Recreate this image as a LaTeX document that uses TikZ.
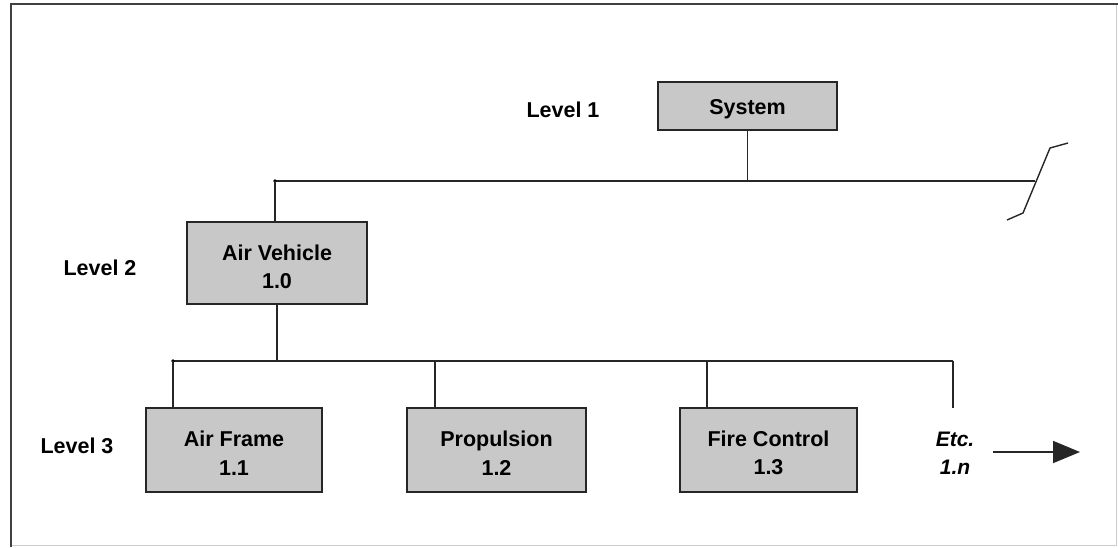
\documentclass[tikz,border=0pt]{standalone}
\usepackage{fontspec}
\setmainfont{Liberation Sans}
\usetikzlibrary{arrows.meta}
\definecolor{boxgray}{HTML}{C8C8C8}
\tikzset{
  wbox/.style={draw=black!85, line width=2pt, fill=boxgray, inner sep=0pt},
  txt/.style={font=\fontsize{21.5}{28.5}\selectfont\bfseries, inner sep=0pt, align=center},
  lvl/.style={font=\fontsize{21.5}{24}\selectfont\bfseries, inner sep=0pt},
  conn/.style={draw=black!85, line width=1.8pt},
}
\begin{document}
\begin{tikzpicture}[x=1pt,y=-1pt]
\useasboundingbox (0,0) rectangle (1118,547);
% frame
\draw[black!20, line width=1pt] (1116,4) -- (1116,545) -- (11,545);
\draw[black!75, line width=2pt] (11,547) -- (11,4) -- (1118,4);
% level labels
\node[lvl] (l1) at (563,110) {Level 1};
\node[lvl] (l2) at (100,268) {Level 2};
\node[lvl] (l3) at (77,446) {Level 3};
% boxes
\node[wbox, minimum width=179pt, minimum height=48pt] (sys) at (747.5,106) {};
\node[wbox, minimum width=180pt, minimum height=82pt] (av) at (277,263) {};
\node[wbox, minimum width=176pt, minimum height=84pt] (af) at (234,450) {};
\node[wbox, minimum width=179pt, minimum height=84pt] (pr) at (496.5,450) {};
\node[wbox, minimum width=177pt, minimum height=84pt] (fc) at (768.5,450) {};
% box texts
\node[txt] (tsys) at ([yshift=-3pt]sys.center) {System};
\node[txt] (tav) at ([yshift=-4pt]av.center) {Air Vehicle\\1.0};
\node[txt] (taf) at ([yshift=-3pt]af.center) {Air Frame\\1.1};
\node[txt] (tpr) at ([yshift=-3pt]pr.center) {Propulsion\\1.2};
\node[txt] (tfc) at ([yshift=-3pt]fc.center) {Fire Control\\1.3};
\node[txt, font=\fontsize{21}{28}\selectfont\bfseries\itshape] (etc) at (955,453) {Etc.\\1.n};
% bus coordinates
\coordinate (b1l) at (275,181);
\coordinate (b1r) at (1035,181);
\coordinate (b2l) at (173,361);
\coordinate (b2r) at (953,361);
\coordinate (bpr) at (435,361);
\coordinate (bfc) at (707,361);
\coordinate (etop) at (953,408);
% level 1-2 connectors
\draw[conn] (sys.south) -- (sys.south |- b1l);
\draw[conn] (b1l) -- (b1r);
\fill (b1l) circle (1.8pt);
\draw[conn] (b1l) -- (b1l |- av.north);
% break mark
\coordinate (z1) at (1007,220);
\coordinate (z2) at (1023,213);
\coordinate (z3) at (1050,148);
\coordinate (z4) at (1068,143);
\draw[black!85, line width=1.4pt] (z1) -- (z2) -- (z3) -- (z4);
% level 2-3 connectors
\draw[conn] (av.south) -- (av.south |- b2l);
\draw[conn] (b2l) -- (b2r);
\fill (b2l) circle (1.8pt);
\draw[conn] (b2l) -- (b2l |- af.north);
\draw[conn] (bpr) -- (bpr |- pr.north);
\draw[conn] (bfc) -- (bfc |- fc.north);
\draw[conn] (b2r) -- (etop);
% arrow
\coordinate (a1) at (993,452);
\coordinate (a2) at (1080,452);
\draw[conn, -{Triangle[length=27pt, width=22pt]}] (a1) -- (a2);
\end{tikzpicture}
\end{document}
